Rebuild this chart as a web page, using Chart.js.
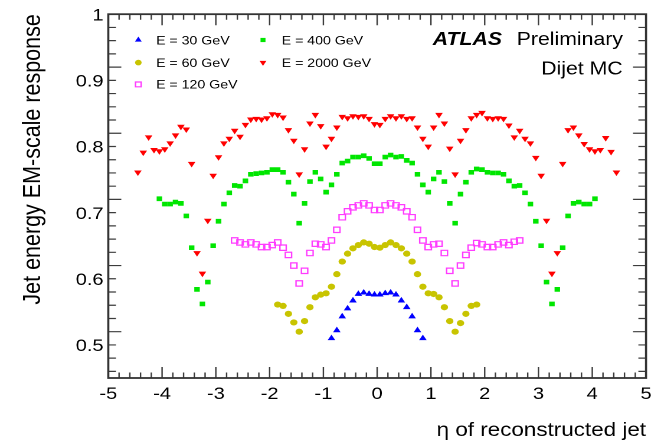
<!DOCTYPE html>
<html>
<head>
<meta charset="utf-8">
<script src="https://cdn.jsdelivr.net/npm/chart.js@4.4.1/dist/chart.umd.min.js"></script>
<style>
html,body{margin:0;padding:0;background:#fff;overflow:hidden;}
#wrap{width:661px;height:442px;overflow:hidden;position:relative;background:#fff;}
#c{position:absolute;left:0;top:0;width:560px;height:442px;transform:scaleX(1.18036);transform-origin:0 0;}
</style>
</head>
<body>
<div id="wrap"><canvas id="c" width="560" height="442" style="width:560px;height:442px"></canvas></div>
<script>
// ---------------- data ----------------
const seriesLabels = ['E = 30 GeV', 'E = 60 GeV', 'E = 120 GeV', 'E = 400 GeV', 'E = 2000 GeV'];

const etaE30 = [-0.85,-0.75,-0.65,-0.55,-0.45,-0.35,-0.25,-0.15,-0.05,
                 0.05, 0.15, 0.25, 0.35, 0.45, 0.55, 0.65, 0.75, 0.85];
const respE30 = [0.510,0.522,0.543,0.555,0.567,0.577,0.579,0.577,0.576,
                 0.576,0.578,0.579,0.576,0.567,0.557,0.543,0.522,0.510];

const etaE60 = [-1.85,-1.75,-1.65,-1.55,-1.45,-1.35,-1.25,-1.15,-1.05,-0.95,
                -0.85,-0.75,-0.65,-0.55,-0.45,-0.35,-0.25,-0.15,-0.05,
                 0.05, 0.15, 0.25, 0.35, 0.45, 0.55, 0.65, 0.75, 0.85, 0.95,
                 1.05, 1.15, 1.25, 1.35, 1.45, 1.55, 1.65, 1.75, 1.85];
const respE60 = [0.561,0.559,0.547,0.534,0.520,0.536,0.557,0.572,0.576,0.578,
                 0.588,0.607,0.626,0.638,0.646,0.651,0.655,0.653,0.648,
                 0.647,0.651,0.655,0.651,0.646,0.638,0.626,0.607,0.588,0.578,
                 0.577,0.572,0.557,0.536,0.520,0.533,0.547,0.559,0.561];

const etaE120 = [-2.65,-2.55,-2.45,-2.35,-2.25,-2.15,-2.05,-1.95,-1.85,-1.75,
                 -1.65,-1.55,-1.45,-1.35,-1.25,-1.15,-1.05,-0.95,-0.85,-0.75,
                 -0.65,-0.55,-0.45,-0.35,-0.25,-0.15,-0.05,
                  0.05, 0.15, 0.25, 0.35, 0.45, 0.55, 0.65, 0.75, 0.85, 0.95,
                  1.05, 1.15, 1.25, 1.35, 1.45, 1.55, 1.65, 1.75, 1.85, 1.95,
                  2.05, 2.15, 2.25, 2.35, 2.45, 2.55, 2.65];
const respE120 = [0.658,0.655,0.652,0.655,0.652,0.648,0.648,0.651,0.655,0.647,
                  0.636,0.620,0.593,0.612,0.639,0.653,0.652,0.648,0.658,0.674,
                  0.693,0.702,0.708,0.711,0.714,0.711,0.704,
                  0.704,0.711,0.714,0.711,0.708,0.702,0.693,0.674,0.658,0.648,
                  0.652,0.653,0.639,0.612,0.593,0.620,0.636,0.647,0.654,0.652,
                  0.648,0.648,0.652,0.655,0.651,0.656,0.658];

const etaE400 = [-4.05,-3.95,-3.85,-3.75,-3.65,-3.55,-3.45,-3.35,-3.25,-3.15,
                 -3.05,-2.95,-2.85,-2.75,-2.65,-2.55,-2.45,-2.35,-2.25,-2.15,
                 -2.05,-1.95,-1.85,-1.75,-1.65,-1.55,-1.45,-1.35,-1.25,-1.15,
                 -1.05,-0.95,-0.85,-0.75,-0.65,-0.55,-0.45,-0.35,-0.25,-0.15,-0.05,
                  0.05, 0.15, 0.25, 0.35, 0.45, 0.55, 0.65, 0.75, 0.85, 0.95,
                  1.05, 1.15, 1.25, 1.35, 1.45, 1.55, 1.65, 1.75, 1.85, 1.95,
                  2.05, 2.15, 2.25, 2.35, 2.45, 2.55, 2.65, 2.75, 2.85, 2.95,
                  3.05, 3.15, 3.25, 3.35, 3.45, 3.55, 3.65, 3.75, 3.85, 3.95, 4.05];
const respE400 = [0.721,0.713,0.713,0.716,0.714,0.695,0.647,0.584,0.562,0.595,
                  0.650,0.687,0.713,0.730,0.741,0.740,0.748,0.758,0.759,0.760,
                  0.761,0.765,0.765,0.761,0.746,0.728,0.684,0.714,0.747,0.761,
                  0.751,0.731,0.742,0.758,0.775,0.778,0.784,0.784,0.786,0.782,0.774,
                  0.774,0.784,0.787,0.784,0.785,0.779,0.775,0.758,0.742,0.731,
                  0.751,0.761,0.747,0.714,0.684,0.728,0.746,0.761,0.766,0.765,
                  0.761,0.760,0.760,0.758,0.748,0.740,0.741,0.730,0.713,0.687,
                  0.650,0.595,0.562,0.584,0.647,0.695,0.714,0.716,0.713,0.713,0.721];

const etaE2000 = [-4.45,-4.35,-4.25,-4.15,-4.05,-3.95,-3.85,-3.75,-3.65,-3.55,
                  -3.45,-3.35,-3.25,-3.15,-3.05,-2.95,-2.85,-2.75,-2.65,-2.55,
                  -2.45,-2.35,-2.25,-2.15,-2.05,-1.95,-1.85,-1.75,-1.65,-1.55,
                  -1.45,-1.35,-1.25,-1.15,-1.05,-0.95,-0.85,-0.75,-0.65,-0.55,
                  -0.45,-0.35,-0.25,-0.15,-0.05,
                   0.05, 0.15, 0.25, 0.35, 0.45, 0.55, 0.65, 0.75, 0.85, 0.95,
                   1.05, 1.15, 1.25, 1.35, 1.45, 1.55, 1.65, 1.75, 1.85, 1.95,
                   2.05, 2.15, 2.25, 2.35, 2.45, 2.55, 2.65, 2.75, 2.85, 2.95,
                   3.05, 3.15, 3.25, 3.35, 3.45, 3.55, 3.65, 3.75, 3.85, 3.95,
                   4.05, 4.15, 4.25, 4.35, 4.45];
const respE2000 = [0.761,0.791,0.814,0.795,0.793,0.796,0.805,0.817,0.830,0.826,
                   0.774,0.639,0.608,0.688,0.756,0.784,0.805,0.812,0.824,0.815,
                   0.833,0.841,0.842,0.841,0.843,0.849,0.848,0.844,0.825,0.809,
                   0.758,0.796,0.835,0.848,0.831,0.800,0.812,0.829,0.845,0.843,
                   0.846,0.845,0.846,0.842,0.834,
                   0.833,0.842,0.846,0.843,0.846,0.842,0.843,0.829,0.812,0.800,
                   0.829,0.848,0.835,0.797,0.758,0.809,0.825,0.843,0.848,0.851,
                   0.843,0.842,0.843,0.842,0.832,0.814,0.824,0.812,0.805,0.783,
                   0.756,0.688,0.608,0.639,0.774,0.825,0.829,0.817,0.804,0.796,
                   0.793,0.795,0.813,0.792,0.761];

const xTickLabels = [-5,-4,-3,-2,-1,0,1,2,3,4,5];
const yTickLabels = [0.5,0.6,0.7,0.8,0.9,1.0];

// ---------------- styling ----------------
const FONT = '"Liberation Sans", Arial, Helvetica, sans-serif';
const styles = [
  {pointStyle:'triangle', rotation:0,   radius:3.7, bg:'#0000ff', border:'#0000ff', bw:0},
  {pointStyle:'circle',   rotation:0,   radius:3.1, bg:'#c8c400', border:'#c8c400', bw:0},
  {pointStyle:'rect',     rotation:0,   radius:3.8, bg:'rgba(255,255,255,0)', border:'#ff3cff', bw:1.2},
  {pointStyle:'rect',     rotation:0,   radius:3.3, bg:'#00e600', border:'#00e600', bw:0},
  {pointStyle:'triangle', rotation:180, radius:3.7, bg:'#ff0000', border:'#ff0000', bw:0}
];
const etas = [etaE30, etaE60, etaE120, etaE400, etaE2000];
const resps = [respE30, respE60, respE120, respE400, respE2000];

const datasets = seriesLabels.map((lab, k) => ({
  label: lab,
  data: etas[k].map((e, i) => ({x: e, y: resps[k][i]})),
  showLine: false,
  pointStyle: styles[k].pointStyle,
  rotation: styles[k].rotation,
  pointRadius: styles[k].radius,
  pointHoverRadius: styles[k].radius,
  backgroundColor: styles[k].bg,
  borderColor: styles[k].border,
  pointBorderWidth: styles[k].bw,
  borderWidth: styles[k].bw
}));

function drawMarker(ctx, st, x, y) {
  ctx.save();
  ctx.fillStyle = st.bg;
  ctx.strokeStyle = st.border;
  ctx.lineWidth = st.bw;
  if (Chart.helpers && Chart.helpers.drawPoint) {
    Chart.helpers.drawPoint(ctx, {pointStyle: st.pointStyle, rotation: st.rotation, radius: st.radius * 0.9, borderWidth: st.bw}, x, y);
  } else {
    ctx.beginPath(); ctx.arc(x, y, st.radius, 0, Math.PI * 2); ctx.fill();
  }
  ctx.restore();
}

const decorations = {
  id: 'decorations',
  afterDraw(chart) {
    const {ctx, chartArea: a, scales: {x, y}} = chart;
    ctx.save();
    // ticks (ROOT style, inside the frame, on all four sides)
    ctx.strokeStyle = '#3c3c3c';
    ctx.lineWidth = 1.2;
    ctx.beginPath();
    for (let i = 0; i <= 50; i++) {
      const v = -5 + i * 0.2;
      const major = (i % 5 === 0);
      const L = major ? 11 : 5.5;
      const px = x.getPixelForValue(v);
      ctx.moveTo(px, a.bottom); ctx.lineTo(px, a.bottom - L);
      ctx.moveTo(px, a.top); ctx.lineTo(px, a.top + L);
    }
    for (let i = 0; i <= 27; i++) {
      const v = 0.46 + i * 0.02;
      const major = ((i + 2) % 5 === 0);
      const L = major ? 11 : 6.5;
      const py = y.getPixelForValue(v);
      ctx.moveTo(a.left, py); ctx.lineTo(a.left + L, py);
      ctx.moveTo(a.right, py); ctx.lineTo(a.right - L, py);
    }
    ctx.stroke();
    // frame
    ctx.strokeStyle = '#333';
    ctx.lineWidth = 1.8;
    ctx.strokeRect(a.left, a.top, a.right - a.left, a.bottom - a.top);

    // legend
    const legendPos = [
      {mx:117.2, tx:132.2, cy:40.0},
      {mx:117.2, tx:132.2, cy:62.6},
      {mx:117.2, tx:132.2, cy:84.4},
      {mx:222.8, tx:238.6, cy:40.0},
      {mx:222.8, tx:238.6, cy:62.6}
    ];
    ctx.textAlign = 'left';
    ctx.textBaseline = 'alphabetic';
    seriesLabels.forEach((lab, k) => {
      const p = legendPos[k];
      drawMarker(ctx, styles[k], p.mx, p.cy);
      ctx.fillStyle = '#000';
      ctx.font = '12px ' + FONT;
      ctx.fillText(lab, p.tx, p.cy + 4.3);
    });

    // ATLAS label
    ctx.fillStyle = '#000';
    ctx.textAlign = 'left';
    ctx.font = 'italic bold 18px ' + FONT;
    ctx.fillText('ATLAS', 366.6, 45.1);
    ctx.font = '18px ' + FONT;
    ctx.fillText('Preliminary', 437.7, 45.1);
    ctx.textAlign = 'right';
    ctx.fillText('Dijet MC', 527.5, 74.7);
    ctx.restore();
  }
};

new Chart(document.getElementById('c'), {
  type: 'scatter',
  data: {datasets},
  options: {
    responsive: false,
    devicePixelRatio: 2,
    animation: false,
    events: [],
    layout: {padding: {left: 0, right: 12.7, top: 14, bottom: 0}},
    plugins: {legend: {display: false}, tooltip: {enabled: false}},
    scales: {
      x: {
        type: 'linear', min: -5, max: 5,
        afterBuildTicks: s => { s.ticks = xTickLabels.map(v => ({value: v})); },
        afterFit: s => { s.height = 64; },
        grid: {display: false, drawTicks: false},
        border: {display: false},
        ticks: {font: {family: FONT, size: 17}, color: '#000', padding: 6, autoSkip: false, maxRotation: 0,
                callback: v => String(v)},
        title: {display: true, text: 'η of reconstructed jet', align: 'end', color: '#000',
                font: {family: FONT, size: 19, lineHeight: 1}, padding: {top: 0, bottom: 1.7}}
      },
      y: {
        type: 'linear', min: 0.45, max: 1.0,
        afterBuildTicks: s => { s.ticks = yTickLabels.map(v => ({value: v})); },
        afterFit: s => { s.width = 91.75; },
        grid: {display: false, drawTicks: false},
        border: {display: false},
        ticks: {font: {family: FONT, size: 17}, color: '#000', padding: 4, labelOffset: 1.5,
                callback: v => (Math.abs(v - 1) < 1e-9 ? '1' : Number(v).toFixed(1))},
        title: {display: true, text: 'Jet energy EM-scale response', align: 'end', color: '#000',
                font: {family: FONT, size: 21.5, lineHeight: 1}, padding: {top: 17.3, bottom: 0}}
      }
    }
  },
  plugins: [decorations]
});
</script>
</body>
</html>
